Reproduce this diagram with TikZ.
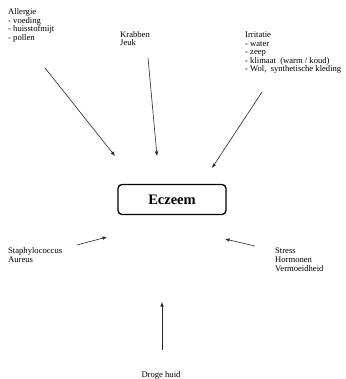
\documentclass[tikz,border=0pt]{standalone}
\usepackage{fontspec}
\setmainfont{Liberation Serif}
\usetikzlibrary{arrows.meta}
\begin{document}
\begin{tikzpicture}[x=1pt,y=-1pt,
  lbl/.style={anchor=north west,inner sep=0pt,align=left,font=\fontsize{8.6}{9.2}\selectfont},
  lbltight/.style={lbl,font=\fontsize{8.6}{8.5}\selectfont},
  arr/.style={draw=black!85,line width=0.6pt,-{Latex[length=4.5pt,width=3.5pt]}},
  mainbox/.style={draw=black,line width=1.3pt,rounded corners=4pt,minimum width=108pt,minimum height=30pt,inner sep=0pt,font=\fontsize{14.5}{16}\selectfont\bfseries}]
\useasboundingbox[fill=white] (0,0) rectangle (345,379);
\node[mainbox] (ecz) at (172,199.5) {Eczeem};
\node[lbltight] (allergie) at (8,8.5) {Allergie\\- voeding\\- huisstofmijt\\- pollen};
\node[lbltight] (krabben) at (120,31) {Krabben\\Jeuk};
\node[lbltight] (irritatie) at (245,32) {Irritatie\\- water\\- zeep\\- klimaat\ \ (warm / koud)\\- Wol,\ \ synthetische kleding};
\node[lbl] (staph) at (8,247.5) {Staphylococcus\\Aureus};
\node[lbl] (stress) at (275,247.5) {Stress\\Hormonen\\Vermoeidheid};
\node[anchor=base,inner sep=0pt,font=\fontsize{8.6}{9.2}\selectfont] (droge) at (161,377) {Droge huid};
\coordinate (a1s) at (45,68);  \coordinate (a1e) at (115,156);
\coordinate (a2s) at (148,58); \coordinate (a2e) at (157,156);
\coordinate (a3s) at (262,92); \coordinate (a3e) at (212,168);
\coordinate (a4s) at (77,245); \coordinate (a4e) at (107,237);
\coordinate (a5s) at (255,246); \coordinate (a5e) at (225,239);
\coordinate (a6s) at (162,350); \coordinate (a6e) at (162,302);
\draw[arr] (a1s) -- (a1e);
\draw[arr] (a2s) -- (a2e);
\draw[arr] (a3s) -- (a3e);
\draw[arr] (a4s) -- (a4e);
\draw[arr] (a5s) -- (a5e);
\draw[arr] (a6s) -- (a6e);
\end{tikzpicture}
\end{document}
